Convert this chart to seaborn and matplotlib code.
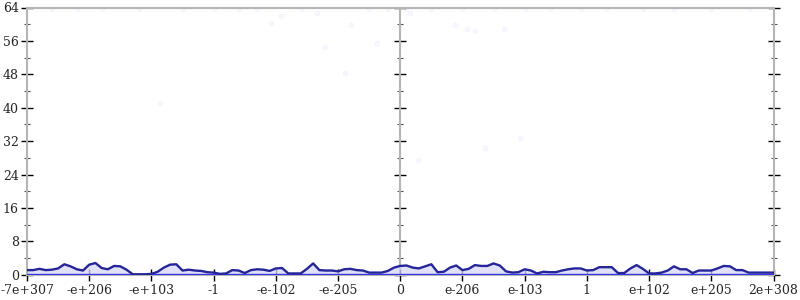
import numpy as np
import pandas as pd
import matplotlib
matplotlib.use("Agg")
import matplotlib.pyplot as plt
import seaborn as sns

# ---- data ----
x_pos = [round(-6.0 + 0.1 * i, 1) for i in range(121)]
density = [
    1.1, 1.1, 1.4, 1.1, 1.2, 1.5, 2.5, 2.0, 1.3, 1.0,
    2.4, 2.8, 1.6, 1.3, 2.1, 2.0, 1.2, 0.1, 0.1, 0.1,
    0.2, 0.7, 1.7, 2.4, 2.5, 1.0, 1.2, 1.0, 0.9, 0.6,
    0.5, 0.2, 0.3, 1.1, 1.0, 0.4, 1.1, 1.3, 1.2, 0.9,
    1.5, 1.6, 0.3, 0.3, 0.3, 1.4, 2.7, 1.1, 1.0, 1.0,
    0.8, 1.3, 1.4, 1.1, 1.0, 0.5, 0.5, 0.5, 0.9, 1.7,
    2.1, 2.2, 1.7, 1.5, 2.0, 2.5, 0.6, 0.7, 1.7, 2.2,
    1.1, 1.4, 2.3, 2.1, 2.1, 2.7, 2.2, 0.8, 0.5, 0.6,
    1.3, 1.0, 0.3, 0.7, 0.6, 0.6, 1.0, 1.3, 1.5, 1.5,
    1.0, 1.1, 1.8, 1.8, 1.8, 0.4, 0.4, 1.5, 2.3, 1.4,
    0.3, 0.3, 0.5, 1.0, 2.0, 1.3, 1.3, 0.4, 1.0, 1.0,
    1.0, 1.5, 2.1, 2.0, 1.1, 1.1, 0.5, 0.5, 0.5, 0.5,
    0.5,
]
pts_x = [-2.08, -1.91, -1.34, -0.79, -1.21, -0.38, 0.88, 1.08, 1.20, 1.67,
         0.15, -3.86, 0.29, 1.36, 1.93, -0.89,
         -5.6, -5.2, -4.8, -4.2, -3.5, -3.0, -2.6, -2.3, -1.6, -0.5, -0.2,
         0.1, 0.5, 1.0, 1.5, 2.0, 2.4, 2.9, 3.3, 3.9, 4.4, 5.0, 5.6]
pts_y = [60.4, 62.0, 62.8, 59.9, 54.5, 55.4, 59.7, 58.8, 58.4, 58.8,
         62.6, 41.1, 27.5, 30.3, 32.7, 48.3,
         63.7, 63.7, 63.7, 63.7, 63.7, 63.7, 63.7, 63.7, 63.7, 63.7, 63.7,
         63.7, 63.7, 63.7, 63.7, 63.7, 63.7, 63.7, 63.7, 63.7, 63.7, 63.7, 63.7]
x_ticks = [-6, -5, -4, -3, -2, -1, 0, 1, 2, 3, 4, 5, 6]
x_labels = ["-7e+307", "-e+206", "-e+103", "-1", "-e-102", "-e-205", "0",
            "e-206", "e-103", "1", "e+102", "e+205", "2e+308"]
y_ticks = [0, 8, 16, 24, 32, 40, 48, 56, 64]
y_minor = [4, 12, 20, 28, 36, 44, 52, 60]

df = pd.DataFrame({"x": x_pos, "y": density})
pts = pd.DataFrame({"x": pts_x, "y": pts_y})

sns.set_theme(style="white")
plt.rcParams["font.family"] = ["DejaVu Serif"]

fig = plt.figure(figsize=(8, 3), dpi=100)
ax = fig.add_axes([27 / 800, 1 - 274.7 / 300, 746.5 / 800, (274.7 - 7.5) / 300])

sns.scatterplot(data=pts, x="x", y="y", ax=ax, s=12, color="#7070ff",
                alpha=0.05, edgecolor="#7070ff", linewidth=0.6, zorder=2)
ax.fill_between(df["x"], 0, df["y"], color="#d6d6f7", alpha=0.75, lw=0, zorder=2)
sns.lineplot(data=df, x="x", y="y", ax=ax, color="#25259a", lw=1.7, zorder=4)
ax.axhline(0, color="#3535e6", lw=2.4, zorder=3)

ax.set_xlim(-6, 6)
ax.set_ylim(0, 64)
ax.set_xlabel("")
ax.set_ylabel("")

gray = "#b5b5b5"
for s in ax.spines.values():
    s.set_color(gray)
    s.set_linewidth(1.5)

ax.set_xticks(x_ticks)
ax.set_xticklabels(x_labels)
ax.set_yticks(y_ticks)
ax.set_yticks(y_minor, minor=True)
ax.tick_params(axis="both", which="major", direction="inout", length=8,
               width=1, color="black", labelsize=9, pad=2,
               bottom=True, left=True, top=False, right=True)
ax.tick_params(axis="y", which="minor", direction="inout", length=3.8,
               width=0.8, color="#555555", left=True, right=True)
ax.tick_params(axis="x", which="minor", bottom=False)
ax.tick_params(axis="x", pad=3)

mid = ax.secondary_yaxis(0.5)
mid.spines["right"].set_color(gray)
mid.spines["right"].set_linewidth(1.5)
mid.set_yticks(y_ticks)
mid.set_yticks(y_minor, minor=True)
mid.tick_params(which="major", direction="inout", length=8, width=1,
                color="black", labelright=False, labelleft=False)
mid.tick_params(which="minor", direction="inout", length=3.8, width=0.8,
                color="#555555")
mid.set_yticklabels([])

ax.grid(False)
fig.savefig("out.png", dpi=100)
